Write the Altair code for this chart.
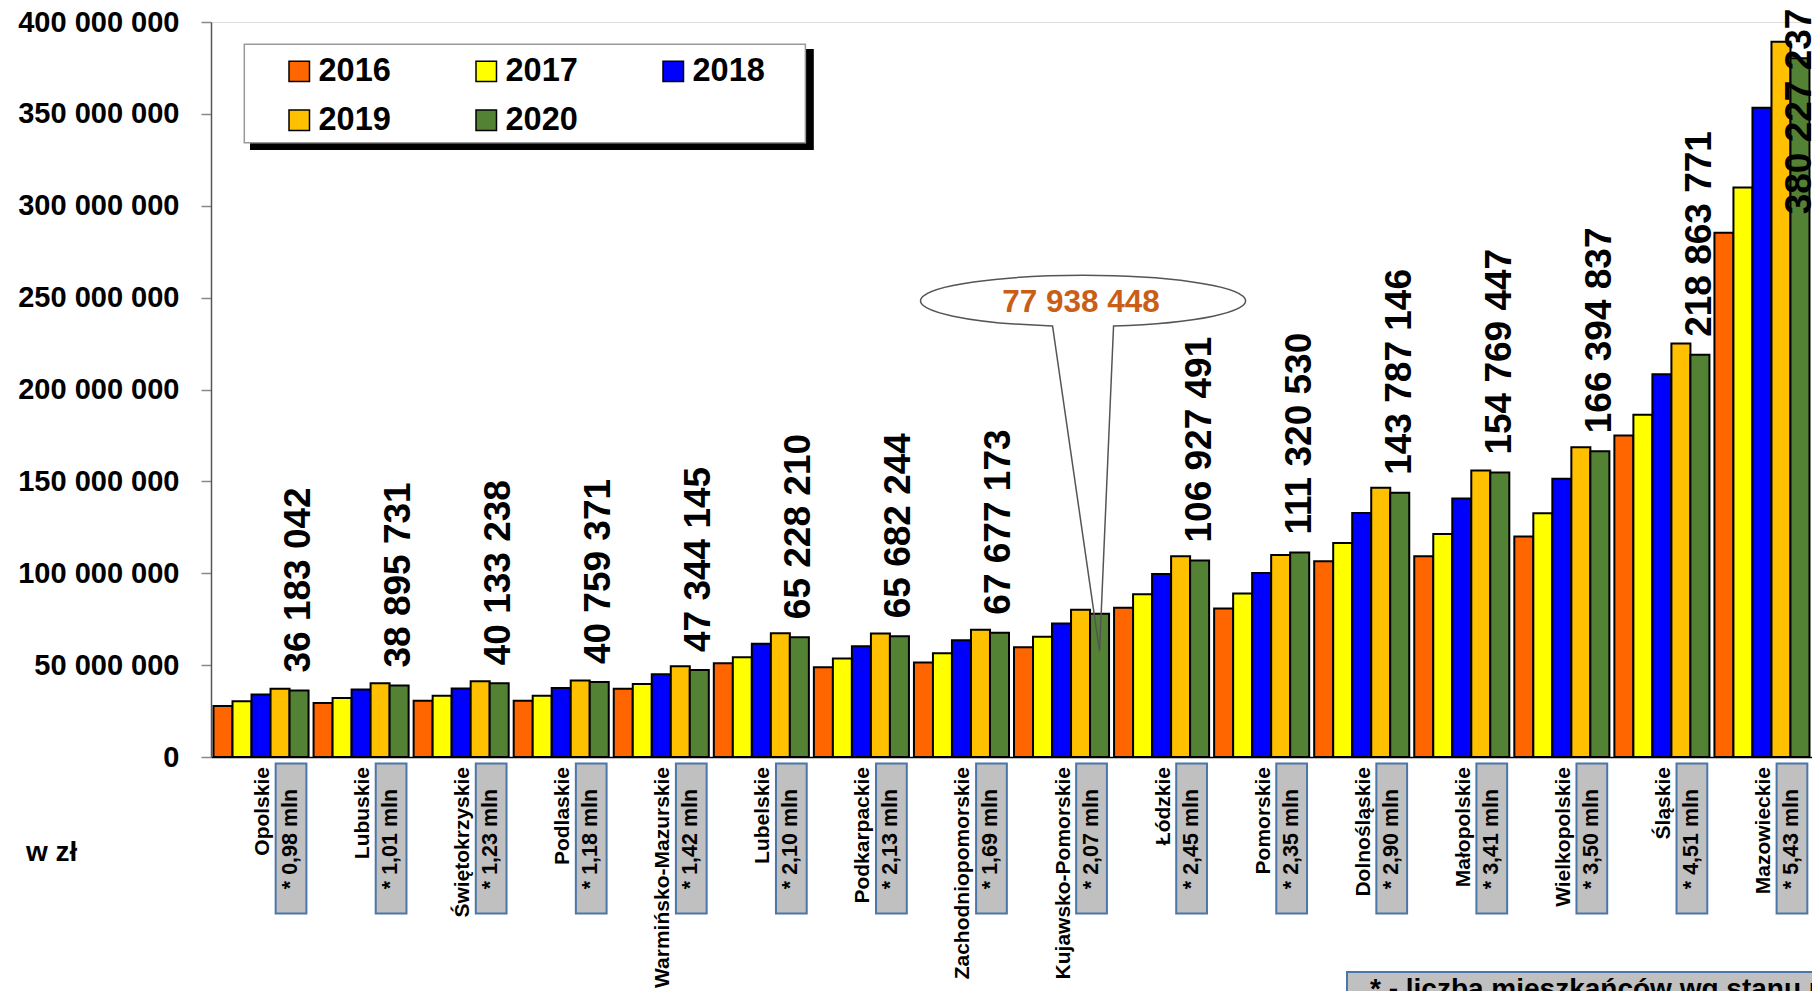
import altair as alt
import pandas as pd

# ---------------- data ----------------
regions = ["Opolskie", "Lubuskie", "Świętokrzyskie", "Podlaskie", "Warmińsko-Mazurskie",
           "Lubelskie", "Podkarpackie", "Zachodniopomorskie", "Kujawsko-Pomorskie", "Łódzkie",
           "Pomorskie", "Dolnośląskie", "Małopolskie", "Wielkopolskie", "Śląskie", "Mazowieckie"]
population_mln = ["0,98", "1,01", "1,23", "1,18", "1,42", "2,10", "2,13", "1,69", "2,07", "2,45",
                  "2,35", "2,90", "3,41", "3,50", "4,51", "5,43"]
years = ["2016", "2017", "2018", "2019", "2020"]

v2016 = [27800000, 29400000, 30600000, 30600000, 37200000, 51000000, 48800000, 51400000,
         59700000, 81200000, 80800000, 106500000, 109300000, 120000000, 175000000, 285300000]
v2017 = [30300000, 32100000, 33300000, 33300000, 39700000, 54300000, 53600000, 56500000,
         65400000, 88600000, 89000000, 116500000, 121400000, 132700000, 186200000, 310000000]
v2018 = [34000000, 36800000, 37300000, 37500000, 45000000, 61600000, 60300000, 63600000,
         72700000, 99600000, 100200000, 132800000, 140700000, 151400000, 208300000, 353400000]
v2019 = [37200000, 40100000, 41200000, 41700000, 49400000, 67400000, 67200000, 69200000,
         80100000, 109300000, 110000000, 146500000, 155900000, 168600000, 225000000, 389200000]
v2020 = [36183042, 38895731, 40133238, 40759371, 47344145, 65228210, 65682244, 67677173,
         77938448, 106927491, 111320530, 143787146, 154769447, 166394837, 218863771, 380227237]

callout_region = "Kujawsko-Pomorskie"
inside_label_region = "Mazowieckie"
unit_label = "w zł"
footnote = "* - liczba mieszkańców wg stanu na"

colors = ["#FF6600", "#FFFF00", "#0000FF", "#FFC000", "#548235"]

series = [v2016, v2017, v2018, v2019, v2020]
rows = []
for i, r in enumerate(regions):
    for y, vals in zip(years, series):
        rows.append({"region": r, "year": y, "value": vals[i]})
df = pd.DataFrame(rows)

lab = pd.DataFrame({"region": regions,
                    "pop": ["* " + p + " mln" for p in population_mln],
                    "year": "2020", "value": v2020})
lab_normal = lab[~lab["region"].isin([callout_region, inside_label_region])]
lab_inside = lab[lab["region"] == inside_label_region]
lab_callout = lab[lab["region"] == callout_region]
one = pd.DataFrame({"k": [0]})

# ---------------- layout ----------------
W, H = 1601, 735
FONT = "Liberation Sans"

x_enc = alt.X("region:N",
              scale=alt.Scale(domain=regions, paddingInner=0.05, paddingOuter=0.025),
              axis=alt.Axis(labels=False, ticks=False, title=None,
                            domainColor="black", domainWidth=1.5))
xoff_enc = alt.XOffset("year:N", scale=alt.Scale(domain=years, paddingInner=0, paddingOuter=0))
y_enc = alt.Y("value:Q",
              scale=alt.Scale(domain=[0, 400000000], nice=False),
              axis=alt.Axis(values=list(range(0, 400000001, 50000000)), format=",d",
                            title=None, grid=False, labelFont=FONT, labelFontSize=29,
                            labelFontWeight="bold", labelColor="black", tickColor="#888",
                            tickSize=10, tickWidth=1.5, labelPadding=22,
                            domainColor="#555", domainWidth=1.5))

legend = alt.Legend(orient="none", legendX=72, legendY=33, columns=3, title=None,
                    direction="horizontal",
                    labelFont=FONT, labelFontSize=32.5, labelFontWeight="bold",
                    labelColor="black", symbolType="square", symbolSize=420,
                    symbolStrokeColor="black", symbolStrokeWidth=1.5, symbolOpacity=1,
                    labelOffset=3, columnPadding=79, rowPadding=16, padding=0)

bars = alt.Chart(df).mark_bar(stroke="black", strokeWidth=2, opacity=1).encode(
    x=x_enc, xOffset=xoff_enc, y=y_enc,
    color=alt.Color("year:N", scale=alt.Scale(domain=years, range=colors), legend=legend))

val_style = dict(angle=270, align="left", baseline="middle", font=FONT, fontSize=37,
                 fontWeight="bold", color="black")
vlabels = alt.Chart(lab_normal).mark_text(dx=18, **val_style).encode(
    x=x_enc, xOffset=xoff_enc, y=y_enc, text=alt.Text("value:Q", format=",d"))
vlabel_in = alt.Chart(lab_inside).mark_text(dx=-156, **val_style).encode(
    x=x_enc, xOffset=xoff_enc, y=y_enc, text=alt.Text("value:Q", format=",d"))

# callout (drawn relative to the top of the 2020 bar, in pixels: size=4 -> scale 1)
ell_path = "M -180 -312.9 A 162.5 25.5 0 1 0 145 -312.9 A 162.5 25.5 0 1 0 -180 -312.9 Z"
out_path = "M -47 -287.9 A 162.5 25.5 0 1 1 14 -287.9 L 0 37.5 Z"
call_fill = alt.Chart(lab_callout).mark_point(
    shape=ell_path, size=4, filled=True, fill="white", opacity=1, strokeWidth=0).encode(
    x=x_enc, xOffset=xoff_enc, y=y_enc)
call_line = alt.Chart(lab_callout).mark_point(
    shape=out_path, size=4, filled=False, stroke="#555", strokeWidth=1.5, opacity=1).encode(
    x=x_enc, xOffset=xoff_enc, y=y_enc)
call_text = alt.Chart(lab_callout).mark_text(
    dx=-18.5, dy=-311, font=FONT, fontSize=31.5, fontWeight="bold", color="#C95E17").encode(
    x=x_enc, xOffset=xoff_enc, y=y_enc, text=alt.Text("value:Q", format=",d"))

# category labels and population boxes
cat_labels = alt.Chart(lab).mark_text(
    angle=270, align="right", baseline="middle", dy=2, font=FONT, fontSize=21,
    fontWeight="bold", color="black").encode(x=x_enc, y=alt.value(H + 10), text="region:N")
pop_boxes = alt.Chart(lab).mark_point(
    shape="M -0.205 -1 H 0.205 V 1 H -0.205 Z", size=22500, filled=True, fill="#C0C0C0",
    stroke="#4A76A8", strokeWidth=2, opacity=1, xOffset=30).encode(
    x=x_enc, y=alt.value(H + 81.5))
pop_text = alt.Chart(lab).mark_text(
    angle=270, align="center", baseline="middle", dy=30, font=FONT, fontSize=21.5,
    fontWeight="bold", color="black").encode(x=x_enc, y=alt.value(H + 82), text="pop:N")

unit = alt.Chart(one).mark_text(
    align="left", baseline="alphabetic", font=FONT, fontSize=28, fontWeight="bold",
    color="black", text=unit_label).encode(x=alt.value(-185), y=alt.value(839))

foot_box = alt.Chart(one).mark_rect(fill="#C0C0C0", stroke="#4A76A8", strokeWidth=2).encode(
    x=alt.value(1136), x2=alt.value(1700), y=alt.value(950), y2=alt.value(1010))
foot_text = alt.Chart(one).mark_text(
    align="left", baseline="top", font=FONT, fontSize=28, fontWeight="bold",
    color="black", text=footnote).encode(x=alt.value(1159), y=alt.value(954))

leg_shadow = alt.Chart(one).mark_rect(fill="black").encode(
    x=alt.value(39), x2=alt.value(602.8), y=alt.value(27), y2=alt.value(128))
leg_box = alt.Chart(one).mark_rect(fill="white", stroke="#999", strokeWidth=1.5).encode(
    x=alt.value(33.3), x2=alt.value(594.4), y=alt.value(22.3), y2=alt.value(120.7))

chart = alt.layer(
    leg_shadow, leg_box, bars, vlabels, vlabel_in, call_fill, call_line, call_text,
    cat_labels, pop_boxes, pop_text, unit, foot_box, foot_text
).properties(
    width=W, height=H,
    autosize=alt.AutoSizeParams(type="none"),
    padding={"left": 203, "top": 14, "right": 0, "bottom": 234},
    background="white",
).configure_view(stroke="#999", strokeWidth=1).configure(
    locale={"number": {"decimal": ",", "thousands": " ", "grouping": [3],
                       "currency": ["", " zł"]}}
)

chart.save("out.html", embed_options={"renderer": "svg", "actions": False})
